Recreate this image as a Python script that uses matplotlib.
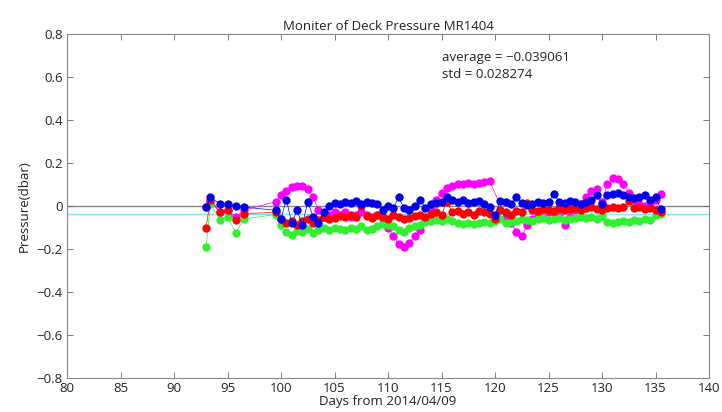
import matplotlib.pyplot as plt
import numpy as np

# ---- data ----
days_early = [93.0, 93.4, 94.3, 95.0, 95.8, 96.5]
days_main = [99.5, 100.0, 100.5, 101.0, 101.5, 102.0, 102.5, 103.0, 103.5, 104.0,
             104.5, 105.0, 105.5, 106.0, 106.5, 107.0, 107.5, 108.0, 108.5, 109.0,
             109.5, 110.0, 110.5, 111.0, 111.5, 112.0, 112.5, 113.0, 113.5, 114.0,
             114.5, 115.0, 115.5, 116.0, 116.5, 117.0, 117.5, 118.0, 118.5, 119.0,
             119.5, 120.0, 120.5, 121.0, 121.5, 122.0, 122.5, 123.0, 123.5, 124.0,
             124.5, 125.0, 125.5, 126.0, 126.5, 127.0, 127.5, 128.0, 128.5, 129.0,
             129.5, 130.0, 130.5, 131.0, 131.5, 132.0, 132.5, 133.0, 133.5, 134.0,
             134.5, 135.0, 135.5]

blue_early = [-0.005, 0.04, 0.01, 0.01, 0.0, -0.005]
blue_main = [-0.02, -0.06, 0.03, -0.08, -0.02, -0.09, 0.02, -0.05, -0.08, -0.03,
             0.0, 0.015, 0.01, 0.02, 0.015, 0.025, 0.01, 0.02, 0.015, 0.01,
             -0.02, 0.0, -0.01, 0.04, -0.01, -0.02, 0.0, 0.03, -0.01, 0.01,
             0.015, 0.02, 0.04, 0.03, 0.02, 0.03, 0.015, 0.02, 0.025, 0.01,
             -0.005, -0.04, 0.025, 0.02, 0.01, 0.04, 0.015, 0.005, 0.01, 0.02,
             0.015, 0.02, 0.055, 0.02, 0.015, 0.025, 0.02, 0.01, 0.02, 0.03,
             0.05, 0.01, 0.05, 0.055, 0.06, 0.05, 0.04, 0.035, 0.04, 0.05,
             0.03, 0.04, -0.015]

red_early = [-0.10, 0.03, -0.03, -0.02, -0.065, -0.035]
red_main = [-0.03, -0.06, -0.08, -0.07, -0.09, -0.07, -0.06, -0.08, -0.065, -0.05,
            -0.06, -0.055, -0.045, -0.05, -0.04, -0.05, 0.0, -0.045, -0.055, -0.04,
            -0.05, -0.06, -0.04, -0.05, -0.06, -0.055, -0.045, -0.04, -0.05, -0.035,
            -0.03, -0.04, 0.02, -0.03, -0.025, -0.035, -0.03, -0.04, -0.025, -0.03,
            -0.035, -0.06, -0.02, -0.03, -0.04, -0.025, -0.03, 0.015, -0.02, -0.025,
            -0.015, -0.02, -0.025, -0.01, -0.02, -0.015, -0.01, -0.02, -0.01, -0.005,
            -0.015, -0.02, -0.01, -0.005, -0.01, -0.005, 0.025, -0.01, -0.005, -0.015,
            -0.01, -0.02, -0.03]

green_early = [-0.19, 0.01, -0.065, -0.05, -0.125, -0.06]
green_main = [-0.04, -0.09, -0.12, -0.135, -0.115, -0.12, -0.105, -0.125, -0.11, -0.10,
              -0.11, -0.10, -0.105, -0.11, -0.10, -0.105, -0.095, -0.11, -0.105, -0.095,
              -0.085, -0.09, -0.095, -0.11, -0.12, -0.10, -0.095, -0.09, -0.075, -0.07,
              -0.065, -0.07, -0.06, -0.07, -0.08, -0.085, -0.08, -0.085, -0.08, -0.075,
              -0.08, -0.07, -0.06, -0.08, -0.075, -0.07, -0.06, -0.065, -0.07, -0.06,
              -0.055, -0.065, -0.06, -0.055, -0.065, -0.06, -0.055, -0.05, -0.055, -0.05,
              -0.06, -0.045, -0.075, -0.08, -0.075, -0.07, -0.075, -0.065, -0.07, -0.06,
              -0.065, -0.04, -0.035]

# magenta has a gap around day 120
days_mag = [93.0, 93.4, 94.3, 95.0, 95.8, 96.5,
            99.5, 100.0, 100.5, 101.0, 101.5, 102.0, 102.5, 103.0, 103.5, 104.0,
            104.5, 105.0, 105.5, 106.0, 106.5, 107.0, 107.5, 108.0, 108.5, 109.0,
            109.5, 110.0, 110.5, 111.0, 111.5, 112.0, 112.5, 113.0, 113.5, 114.0,
            114.5, 115.0, 115.5, 116.0, 116.5, 117.0, 117.5, 118.0, 118.5, 119.0,
            119.5, 121.0, 121.5, 122.0, 122.5, 123.0, 123.5, 124.0,
            124.5, 125.0, 125.5, 126.0, 126.5, 127.0, 127.5, 128.0, 128.5, 129.0,
            129.5, 130.0, 130.5, 131.0, 131.5, 132.0, 132.5, 133.0, 133.5, 134.0,
            134.5, 135.0, 135.5]
magenta = [-0.005, 0.02, -0.03, -0.02, -0.05, -0.02,
           0.02, 0.05, 0.07, 0.09, 0.095, 0.095, 0.08, 0.04, -0.02, -0.05,
           -0.04, -0.03, -0.04, -0.03, -0.05, -0.04, -0.03, -0.04, -0.05, -0.04,
           -0.06, -0.10, -0.14, -0.175, -0.19, -0.17, -0.14, -0.11, -0.06, -0.02,
           0.03, 0.06, 0.085, 0.095, 0.10, 0.10, 0.105, 0.10, 0.105, 0.11,
           0.115, -0.05, -0.08, -0.12, -0.14, -0.09, -0.06, -0.04,
           -0.05, -0.03, -0.03, -0.04, -0.09, -0.05, -0.02, 0.01, 0.04, 0.07,
           0.08, 0.02, 0.10, 0.13, 0.125, 0.10, 0.06, 0.03, 0.01, 0.0,
           0.01, 0.03, 0.055]

average = -0.039061
std = 0.028274

# ---- figure ----
plt.rcParams['font.family'] = ['Open Sans', 'DejaVu Sans']
fig = plt.figure(figsize=(7.22, 4.12), dpi=100)
ax = fig.add_axes([0.0928, 0.0825, 0.8892, 0.835])

days_all = days_early + days_main
series = [
    (blue_early + blue_main, '#0000ee'),
    (red_early + red_main, '#ff0000'),
    (green_early + green_main, '#33ee33'),
]

ax.axhline(0, color='#888888', lw=1.0, zorder=1)
ax.axhline(average, color='#7fe6f2', lw=1.0, zorder=1)

ax.plot(days_mag, magenta, '-o', color='#ff00ff', lw=0.5, ms=6, mew=0, zorder=2)
for vals, col in series[::-1]:
    ax.plot(days_all, vals, '-o', color=col, lw=0.5, ms=6, mew=0, zorder=3)

ax.set_xlim(80, 140)
ax.set_ylim(-0.8, 0.8)
ax.set_xticks(np.arange(80, 141, 5))
ax.set_yticks([-0.8, -0.6, -0.4, -0.2, 0, 0.2, 0.4, 0.6, 0.8])
ax.set_yticklabels(['\u22120.8', '\u22120.6', '\u22120.4', '\u22120.2', '0', '0.2', '0.4', '0.6', '0.8'])
ax.tick_params(direction='in', top=True, right=True, length=4, width=0.6,
               color='#666666', labelsize=9.5, labelcolor='#222222', pad=3)
for s in ax.spines.values():
    s.set_color('#888888')
    s.set_linewidth(0.8)

ax.set_title('Moniter of Deck Pressure MR1404', fontsize=9.5, color='#222222', pad=3)
ax.set_xlabel('Days from 2014/04/09', fontsize=9.5, color='#222222', labelpad=0)
ax.set_ylabel('Pressure(dbar)', fontsize=9.5, color='#222222', labelpad=4)

ax.text(115.0, 0.69, 'average = \u22120.039061', fontsize=9.5, color='#222222', va='center')
ax.text(115.0, 0.61, 'std = 0.028274', fontsize=9.5, color='#222222', va='center')

fig.savefig('out.png', dpi=100)
